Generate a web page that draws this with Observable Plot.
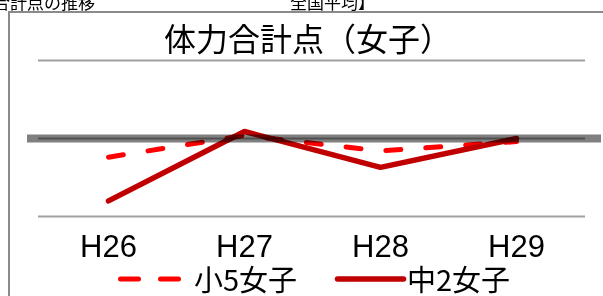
<!DOCTYPE html>
<html><head><meta charset="utf-8">
<script src="https://cdn.jsdelivr.net/npm/d3@7"></script>
<script src="https://cdn.jsdelivr.net/npm/@observablehq/plot@0.6"></script>
<style>
body{margin:0;background:#fff;font-family:"Liberation Sans","Noto Sans CJK JP",sans-serif;color:#000;}
#wrap{position:relative;width:603px;height:296px;overflow:hidden;background:#fff;}
.abs{position:absolute;white-space:pre;}
#frame{position:absolute;left:8px;top:11px;width:700px;height:400px;border-left:2px solid #8a8a8a;border-top:2px solid #8a8a8a;}
#title{position:absolute;left:8px;width:600px;top:15px;text-align:center;font-size:32px;line-height:44px;font-family:"Noto Sans CJK JP",sans-serif;}
#chart{position:absolute;left:0;top:48px;}
.leg{font-size:29px;line-height:30px;top:263px;font-family:"Noto Sans CJK JP",sans-serif;}
.top{font-size:17px;line-height:20px;top:-8px;font-family:"Noto Sans CJK JP",sans-serif;}
</style></head><body>
<div id="wrap">
  <div class="abs top" style="left:-7px">合計点の推移</div>
  <div class="abs top" style="left:290px">全国平均】</div>
  <div id="frame"></div>
  <div id="title">体力合計点（女子）</div>
  <div id="chart"></div>
  <svg class="abs" style="left:110px;top:269px" width="80" height="20"><line x1="10.5" x2="68.5" y1="10" y2="10" stroke="#ff0000" stroke-width="5" stroke-dasharray="18,22" stroke-linecap="round"/></svg>
  <div class="abs leg" style="left:194px" id="leg1"></div>
  <svg class="abs" style="left:330px;top:269px" width="80" height="20"><line x1="7.5" x2="73.5" y1="10" y2="10" stroke="#c00000" stroke-width="5.5" stroke-linecap="round"/></svg>
  <div class="abs leg" style="left:407px" id="leg2"></div>
</div>
<script>
const years = ["H26", "H27", "H28", "H29"];
const shou5 = [48.8, 50.2, 49.2, 49.8];
const chu2 = [46.0, 50.45, 48.15, 50.0];
const gridTicks = [45, 50, 55];
const average = 50;
const seriesNames = ["小5女子", "中2女子"];

document.getElementById("leg1").textContent = seriesNames[0];
document.getElementById("leg2").textContent = seriesNames[1];

const s5 = years.map((y, i) => ({year: y, value: shou5[i]}));
const c2 = years.map((y, i) => ({year: y, value: chu2[i]}));

const plot = Plot.plot({
  width: 603, height: 214,
  marginTop: 12, marginBottom: 46, marginLeft: 38, marginRight: 18,
  style: {background: "transparent", overflow: "visible", color: "#000", fontFamily: '"Liberation Sans","Noto Sans CJK JP",sans-serif'},
  x: {type: "point", domain: years, padding: 0.5, label: null},
  y: {domain: [45, 55], axis: null},
  marks: [
    Plot.ruleY(gridTicks, {stroke: "#a0a0a0", strokeWidth: 2}),
    Plot.ruleY([average], {stroke: "#808080", strokeWidth: 8, insetLeft: -11, insetRight: -16, mixBlendMode: "multiply"}),
    Plot.line(c2, {x: "year", y: "value", stroke: "#c00000", strokeWidth: 5.5, strokeLinecap: "round", strokeLinejoin: "miter", mixBlendMode: "multiply"}),
    Plot.line(s5, {x: "year", y: "value", stroke: "#ff0000", strokeWidth: 5, strokeDasharray: "15,25", strokeLinecap: "round", mixBlendMode: "multiply"}),
    Plot.axisX({tickSize: 0, tickPadding: 18, fontSize: 31, fill: "#000", label: null})
  ]
});
document.getElementById("chart").appendChild(plot);
</script>
</body></html>
